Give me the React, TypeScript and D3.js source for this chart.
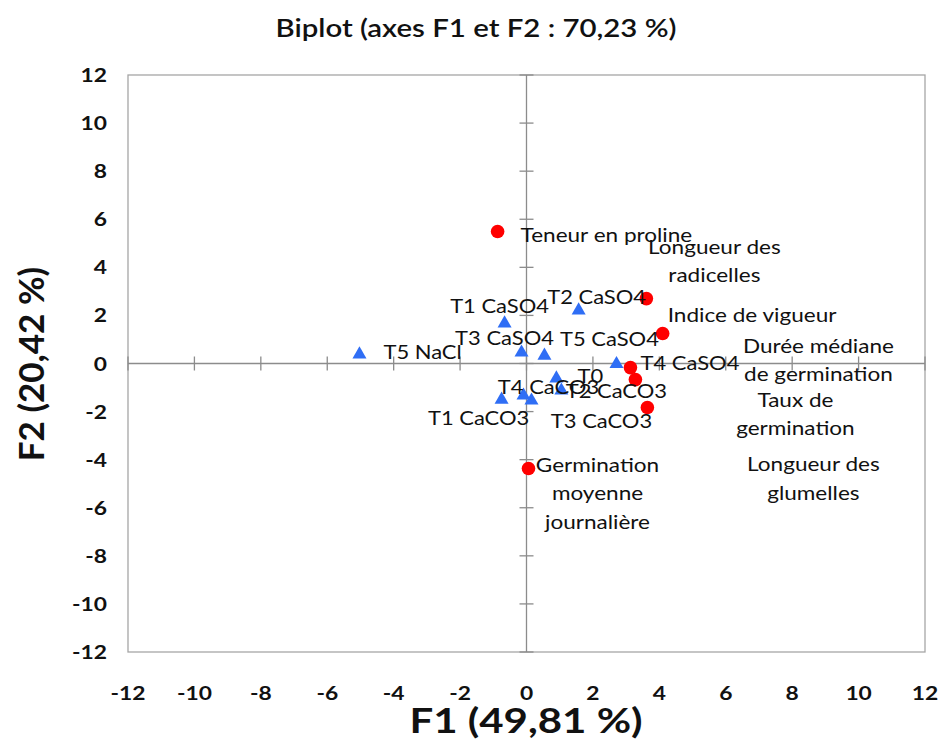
import React from "react";
import * as d3 from "d3";

// Variables (red circles)
const varNames = [
  "Teneur en proline",
  "Longueur des\nradicelles",
  "Indice de vigueur",
  "Durée médiane\nde germination",
  "Taux de\ngermination",
  "Longueur des\nglumelles",
  "Germination\nmoyenne\njournalière",
];
const varF1 = [-0.87, 3.61, 4.1, 3.13, 3.28, 3.64, 0.06];
const varF2 = [5.49, 2.7, 1.25, -0.17, -0.67, -1.83, -4.37];

// Observations (blue triangles)
const obsNames = [
  "T5 NaCl", "T1 CaSO4", "T2 CaSO4", "T3 CaSO4", "T5 CaSO4", "T4 CaSO4",
  "T0", "T2 CaCO3", "T4 CaCO3", "T1 CaCO3", "T3 CaCO3",
];
const obsF1 = [-5.03, -0.66, 1.57, -0.15, 0.54, 2.71, 0.9, 1.05, -0.09, -0.75, 0.15];
const obsF2 = [0.42, 1.71, 2.25, 0.5, 0.37, 0.02, -0.58, -1.08, -1.29, -1.46, -1.5];

const ticks = [-12, -10, -8, -6, -4, -2, 0, 2, 4, 6, 8, 10, 12];

// label placement (pixel offsets from the mark, like the hand-moved Excel labels)
const varLabelPos: [number, number, string][] = [
  [23, 10, "start"], [68, -45, "middle"], [5, -11, "start"], [188, -15, "middle"],
  [160, 27, "middle"], [166, 64, "middle"], [69, 3, "middle"],
];
const obsLabelPos: [number, number, string][] = [
  [24, 6, "start"], [-5, -9, "middle"], [18, -5, "middle"], [-17, -6, "middle"],
  [65, -9, "middle"], [24, 7, "start"], [34, 6, "middle"], [55, 9, "middle"],
  [25, -1, "middle"], [-23, 26, "middle"], [70, 28, "middle"],
];

const W = 940, H = 745;
const L = 128, R = 925, T = 75, B = 652;
const FONT = "Lato, 'Open Sans', sans-serif";
const SX = 1.2; // the original picture is stretched sideways

function Txt(props: any) {
  const { x, y, anchor, size, weight, lines } = props;
  return (
    <text transform={`translate(${x},${y}) scale(${SX},1)`} textAnchor={anchor || "middle"}
      fontSize={size} fontWeight={weight || 400} fill="#111">
      {lines.map((s: string, j: number) => (
        <tspan key={j} x={0} dy={j === 0 ? 0 : 28.5}>{s}</tspan>
      ))}
    </text>
  );
}

export default function App() {
  const x = d3.scaleLinear().domain([-12, 12]).range([L, R]);
  const y = d3.scaleLinear().domain([-12, 12]).range([B, T]);
  const tri = d3.symbol().type(d3.symbolTriangle).size(85)() as string;

  return (
    <div style={{ position: "absolute", left: 0, top: 0 }}>
      <svg width={W} height={H} style={{ display: "block", background: "#fff" }} fontFamily={FONT}>
        <Txt x={476} y={37} size={24.5} weight={600} lines={["Biplot (axes F1 et F2 : 70,23 %)"]} />

        <rect x={L} y={T} width={R - L} height={B - T} fill="none" stroke="#a6a6a6" strokeWidth={1.3} />
        <line x1={L} x2={R} y1={y(0)} y2={y(0)} stroke="#8c8c8c" strokeWidth={1.3} />
        <line x1={x(0)} x2={x(0)} y1={T} y2={B} stroke="#8c8c8c" strokeWidth={1.3} />
        {ticks.map((t) => (
          <g key={"t" + t}>
            <line x1={x(t)} x2={x(t)} y1={y(0) - 7} y2={y(0) + 7} stroke="#8c8c8c" strokeWidth={1.3} />
            <line x1={x(0) - 7} x2={x(0) + 7} y1={y(t)} y2={y(t)} stroke="#8c8c8c" strokeWidth={1.3} />
            <Txt x={107} y={y(t) + 7} anchor="end" size={19} weight={700} lines={[String(t)]} />
            <Txt x={x(t)} y={700} size={19} weight={700} lines={[String(t)]} />
          </g>
        ))}

        <Txt x={526} y={733} size={35} weight={700} lines={["F1 (49,81 %)"]} />
        <text transform="translate(44,364) rotate(-90)" textAnchor="middle" fontSize={35} fontWeight={700} fill="#111">
          F2 (20,42 %)
        </text>

        {obsNames.map((n, i) => (
          <path key={"o" + i} d={tri} transform={`translate(${x(obsF1[i])},${y(obsF2[i]) + 1})`} fill="#2f6ef5" />
        ))}
        {varNames.map((n, i) => (
          <circle key={"v" + i} cx={x(varF1[i])} cy={y(varF2[i])} r={6.8} fill="#ff0000" />
        ))}

        {obsNames.map((n, i) => (
          <Txt key={"ol" + i} x={x(obsF1[i]) + obsLabelPos[i][0]} y={y(obsF2[i]) + obsLabelPos[i][1]}
            anchor={obsLabelPos[i][2]} size={18.3} lines={[n]} />
        ))}
        {varNames.map((n, i) => (
          <Txt key={"vl" + i} x={x(varF1[i]) + varLabelPos[i][0]} y={y(varF2[i]) + varLabelPos[i][1]}
            anchor={varLabelPos[i][2]} size={18.8} lines={n.split("\n")} />
        ))}
      </svg>
    </div>
  );
}
